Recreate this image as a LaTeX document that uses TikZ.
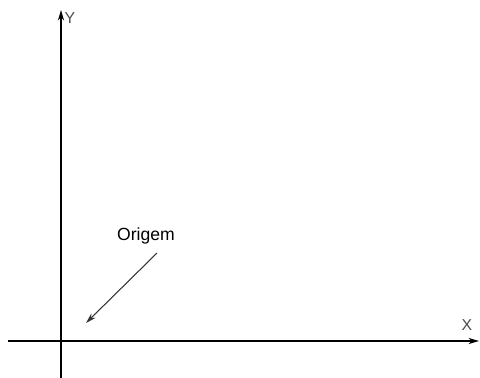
\documentclass[tikz,border=0pt]{standalone}
\usepackage{fontspec}
\setmainfont{Liberation Sans}
\usetikzlibrary{arrows.meta}
\begin{document}
\begin{tikzpicture}[
        x=0.02cm, y=-0.02cm,
        >={Stealth[length=6pt,width=3.5pt]},
        axis/.style={->, line width=0.9pt},
        pointer/.style={->, line width=0.6pt, black!80},
        lab/.style={font=\small, text=black!70}
    ]
        \useasboundingbox (0,0) rectangle (480,378);

        % axes
        \coordinate (ybot) at (61,378);
        \coordinate (ytop) at (61,10);
        \coordinate (xleft) at (8,341);
        \coordinate (xright) at (479,341);
        \draw[axis] (ybot) -- (ytop);
        \draw[axis] (xleft) -- (xright);
        \node[lab] (ylab) at (70,18) {Y};
        \node[lab] (xlab) at (467,325) {X};

        % origin label
        \node[font=\normalsize] (orig) at (146,236) {Origem};
        \coordinate (ptrstart) at (157,253);
        \coordinate (o) at (86,323);
        \draw[pointer] (ptrstart) -- (o);

    \end{tikzpicture}
\end{document}
